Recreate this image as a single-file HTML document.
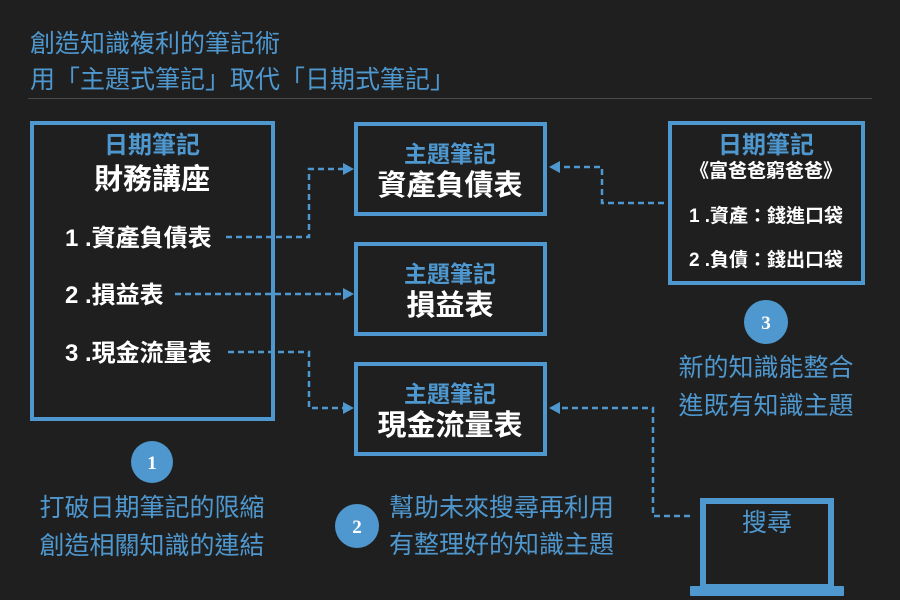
<!DOCTYPE html>
<html><head><meta charset="utf-8"><style>
body{margin:0;background:#1f1f1f;}
svg{display:block;font-family:"Liberation Sans","Noto Sans CJK TC",sans-serif;}
.b{fill:#4f98cf}.w{fill:#fff;font-weight:bold}
</style></head><body>
<svg width="900" height="600" viewBox="0 0 900 600">
<rect width="900" height="600" fill="#1f1f1f"/>
<text x="30" y="52" font-size="25" class="b">創造知識複利的筆記術</text>
<text x="30" y="88" font-size="25" class="b">用「主題式筆記」取代「日期式筆記」</text>
<line x1="28" y1="98.5" x2="872" y2="98.5" stroke="#4a4a4a" stroke-width="1"/>
<g fill="none" stroke="#4f98cf" stroke-width="4">
<rect x="32" y="123" width="241" height="296"/>
<rect x="356" y="124" width="189" height="90"/>
<rect x="356" y="244" width="189" height="90"/>
<rect x="356" y="364" width="189" height="90"/>
<rect x="670" y="123" width="193" height="160"/>
<rect x="703" y="501" width="128" height="86" stroke-width="6"/>
</g>
<rect x="690" y="586" width="154" height="10" fill="#4f98cf" rx="1"/>
<g fill="none" stroke="#4f98cf" stroke-width="2.5" stroke-dasharray="6 4">
<polyline points="226,237 309,237 309,169 345,169"/>
<polyline points="175,294 345,294"/>
<polyline points="228,352 309,352 309,408 345,408"/>
<polyline points="664,203 602,203 602,167 558,167"/>
<polyline points="690,516 653,516 653,408 558,408"/>
</g>
<g fill="#4f98cf">
<polygon points="354,169 343,163 343,175"/>
<polygon points="354,294 343,288 343,300"/>
<polygon points="354,408 343,402 343,414"/>
<polygon points="549,167 560,161 560,173"/>
<polygon points="549,408 560,402 560,414"/>
<circle cx="152" cy="462" r="21"/>
<circle cx="357" cy="526" r="22"/>
<circle cx="766" cy="322" r="22"/>
</g>
<g text-anchor="middle">
<text x="152" y="153" font-size="24" class="b" font-weight="bold">日期筆記</text>
<text x="152" y="189" font-size="29" class="w">財務講座</text>
<text x="450" y="162" font-size="23" class="b" font-weight="bold">主題筆記</text>
<text x="450" y="195" font-size="29" class="w">資產負債表</text>
<text x="450" y="282" font-size="23" class="b" font-weight="bold">主題筆記</text>
<text x="450" y="315" font-size="29" class="w">損益表</text>
<text x="450" y="402" font-size="23" class="b" font-weight="bold">主題筆記</text>
<text x="450" y="435" font-size="29" class="w">現金流量表</text>
<text x="766" y="153" font-size="24" class="b" font-weight="bold">日期筆記</text>
<text x="766" y="177" font-size="19" class="w">《富爸爸窮爸爸》</text>
<text x="766" y="222" font-size="19" class="w">1 .資產：錢進口袋</text>
<text x="766" y="266" font-size="19" class="w">2 .負債：錢出口袋</text>
<text x="767" y="531" font-size="25" class="b">搜尋</text>
<text x="766" y="376" font-size="25" class="b">新的知識能整合</text>
<text x="766" y="414" font-size="25" class="b">進既有知識主題</text>
<text x="152" y="516" font-size="25" class="b">打破日期筆記的限縮</text>
<text x="152" y="554" font-size="25" class="b">創造相關知識的連結</text>
<text x="152" y="469" font-size="19" fill="#fff" font-weight="bold" font-family="Liberation Serif,serif">1</text>
<text x="357" y="533" font-size="19" fill="#fff" font-weight="bold" font-family="Liberation Serif,serif">2</text>
<text x="766" y="329" font-size="19" fill="#fff" font-weight="bold" font-family="Liberation Serif,serif">3</text>
</g>
<text x="65" y="246" font-size="24" class="w">1 .資產負債表</text>
<text x="65" y="303" font-size="24" class="w">2 .損益表</text>
<text x="65" y="361" font-size="24" class="w">3 .現金流量表</text>
<text x="389" y="516" font-size="25" class="b">幫助未來搜尋再利用</text>
<text x="389" y="553" font-size="25" class="b">有整理好的知識主題</text>
</svg>
</body></html>
